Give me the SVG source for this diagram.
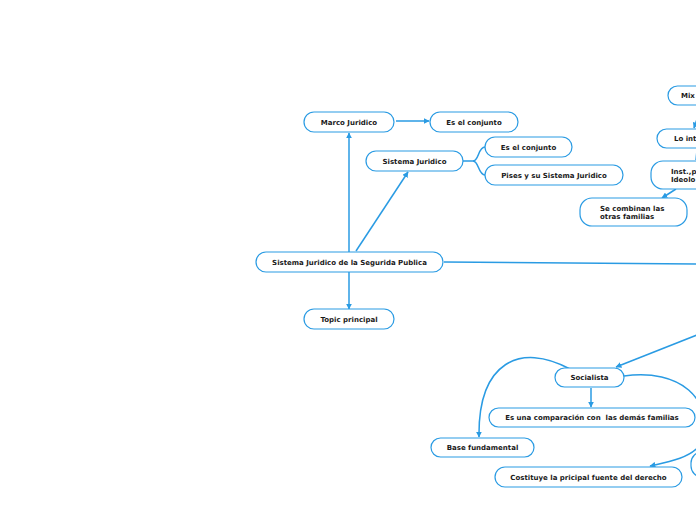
<svg xmlns="http://www.w3.org/2000/svg" width="696" height="520" viewBox="0 0 696 520">
<style>
.n rect{fill:#fff;stroke:#2a9be3;stroke-width:1.2}
.n text{font-family:"DejaVu Sans",Verdana,sans-serif;font-weight:bold;font-size:7px;fill:#1a1a1a;text-anchor:middle;white-space:pre}
.n text.l{text-anchor:start}
#c path{fill:none;stroke:#2a9be3;stroke-width:1.5}
</style>
<defs>
<marker id="a" viewBox="0 0 10 10" refX="9" refY="5" markerWidth="6" markerHeight="6" orient="auto" markerUnits="userSpaceOnUse">
<path d="M0,0 L10,5 L0,10 z" fill="#2a9be3"/>
</marker>
</defs>
<rect width="696" height="520" fill="#fff"/>
<g id="c">
<path d="M349,252 V133" marker-end="url(#a)"/>
<path d="M356,251 L408,172" marker-end="url(#a)"/>
<path d="M396,121 H429" marker-end="url(#a)"/>
<path d="M463,161 H473 C479,161 478,147 485,147"/>
<path d="M473,161 C479,161 478,175 485,175"/>
<path d="M349,272 V309" marker-end="url(#a)"/>
<path d="M444,262 L696,264"/>
<path d="M697,119 L694,128" marker-end="url(#a)"/>
<path d="M697,150 L696,160"/>
<path d="M676,189 L662,198" marker-end="url(#a)"/>
<path d="M697,335 L616,367" marker-end="url(#a)"/>
<path d="M591,388 V407" marker-end="url(#a)"/>
<path d="M570,369 C520,342 478,362 479,437" marker-end="url(#a)"/>
<path d="M624,376 C680,368 715,400 700,440"/>
<path d="M700,445 C690,458 668,462 650,466" marker-end="url(#a)"/>
</g>
<g id="n1" class="n"><rect x="256" y="252" width="187" height="20" rx="10"/><text x="349.5" y="264.5">Sistema Juridico de la Segurida Publica</text></g>
<g id="n2" class="n"><rect x="304" y="112" width="90" height="20" rx="10"/><text x="349" y="124.5">Marco Juridico</text></g>
<g id="n3" class="n"><rect x="430" y="112" width="88" height="20" rx="10"/><text x="474" y="124.5">Es el conjunto</text></g>
<g id="n4" class="n"><rect x="366" y="151" width="97" height="20" rx="10"/><text x="414.5" y="163.5">Sistema Juridico</text></g>
<g id="n5" class="n"><rect x="485" y="137" width="87" height="20" rx="10"/><text x="528.5" y="149.5">Es el conjunto</text></g>
<g id="n6" class="n"><rect x="485" y="165" width="138" height="20" rx="10"/><text x="554" y="177.5">Pises y su Sistema Juridico</text></g>
<g id="n7" class="n"><rect x="304" y="309" width="90" height="20" rx="10"/><text x="349" y="321.5">Topic principal</text></g>
<g id="n8" class="n"><rect x="668" y="86" width="60" height="19" rx="9.5"/><text class="l" x="681" y="98">Mix</text></g>
<g id="n9" class="n"><rect x="657" y="129" width="70" height="19" rx="9.5"/><text class="l" x="674" y="141">Lo int</text></g>
<g id="n10" class="n"><rect x="651" y="161" width="80" height="28" rx="12"/><text class="l" x="671" y="173.5">Inst.,p</text><text class="l" x="671" y="182">Ideolo</text></g>
<g id="n11" class="n"><rect x="580" y="198" width="107" height="28" rx="12"/><text class="l" x="600" y="210.5">Se combinan las</text><text class="l" x="600" y="219">otras familias</text></g>
<g id="n12" class="n"><rect x="555" y="368" width="69" height="19" rx="9.5"/><text x="589.5" y="380">Socialista</text></g>
<g id="n13" class="n"><rect x="489" y="408" width="206" height="19" rx="9.5"/><text x="592" y="420">Es una comparación con  las demás familias</text></g>
<g id="n14" class="n"><rect x="431" y="438" width="103" height="19" rx="9.5"/><text x="482.5" y="450">Base fundamental</text></g>
<g id="n15" class="n"><rect x="495" y="467" width="187" height="20" rx="10"/><text x="588.5" y="479.5">Costituye la pricipal fuente del derecho</text></g>
<g id="n16" class="n"><rect x="691" y="452" width="60" height="25" rx="11"/></g>
</svg>
